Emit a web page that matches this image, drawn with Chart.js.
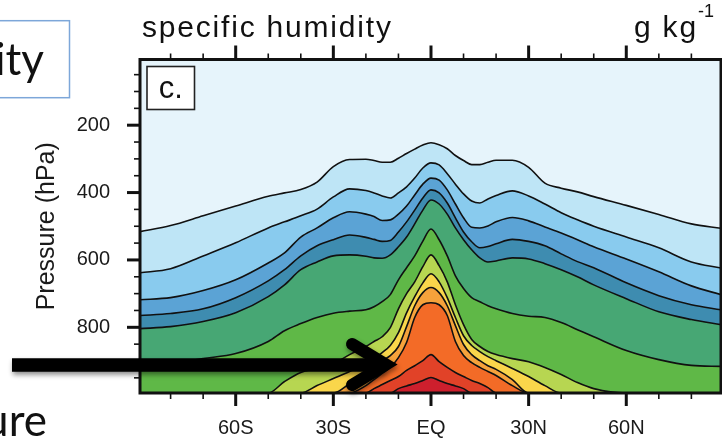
<!DOCTYPE html>
<html>
<head>
<meta charset="utf-8">
<script src="https://cdn.jsdelivr.net/npm/chart.js@4.4.0/dist/chart.umd.min.js"></script>
<style>
html,body{margin:0;padding:0;background:#fff;overflow:hidden}
canvas{display:block}
</style>
</head>
<body>
<canvas id="c" width="722" height="441"></canvas>
<script>
// ---------- data (pressure in hPa of each specific-humidity contour, per latitude) ----------
const SFC = 995; // contour meets the bottom of the plot
const lats = [-89.4,-80,-70,-60,-50,-45,-40,-35,-30,-25,-20,-17.5,-15,-12.5,-10,-7.5,-5,-2.5,0,2.5,5,7.5,10,12.5,15,17.5,20,25,30,35,40,45,50,60,70,80,89.1];

const q1  = [516,498,469,440,411,401,391,369,323,302,301,305,310,310,298,284,271,259,252,258,270,290,305,317,317,310,304,304,325,372,387,398,412,438,465,493,506];
const q2  = [638,626,588,549,505,487,469,449,413,389,394,401,410,416,401,383,357,327,312,318,344,375,404,425,431,419,409,395,410,434,460,481,500,532,564,606,624];
const q3  = [718,712,691,659,609,579,532,505,475,457,464,471,483,481,464,440,407,375,357,363,392,434,475,503,505,499,487,474,484,502,520,540,561,597,635,677,703];
const q4  = [765,759,745,712,662,629,588,558,540,526,533,539,545,542,517,487,452,416,392,401,431,475,517,546,564,560,552,539,545,558,582,605,623,668,706,733,748];
const q5  = [804,798,783,757,709,674,629,606,588,585,589,594,595,585,561,532,493,452,422,434,464,505,540,570,594,606,603,594,597,611,629,650,674,715,754,777,792];
const q6  = [916,907,893,878,842,810,789,771,758,752,748,739,724,703,659,623,588,544,508,540,588,647,685,712,724,736,745,759,767,771,786,807,828,869,896,913,916];
const q7  = [SFC,SFC,SFC,SFC,SFC,961,934,922,908,881,857,842,828,801,745,700,665,620,585,617,665,733,792,836,857,872,881,893,902,919,940,964,982,SFC,SFC,SFC,SFC];
const q8  = [SFC,SFC,SFC,SFC,SFC,SFC,SFC,973,952,931,908,893,875,854,816,757,709,668,641,665,712,771,825,854,872,887,899,922,946,973,SFC,SFC,SFC,SFC,SFC,SFC,SFC];
const q9  = [SFC,SFC,SFC,SFC,SFC,SFC,SFC,SFC,SFC,967,931,914,899,884,857,798,736,697,682,697,736,795,851,881,899,914,925,955,SFC,SFC,SFC,SFC,SFC,SFC,SFC,SFC,SFC];
const q10 = [SFC,SFC,SFC,SFC,SFC,SFC,SFC,SFC,SFC,SFC,973,955,937,919,890,845,771,733,727,733,765,842,884,905,919,931,943,973,SFC,SFC,SFC,SFC,SFC,SFC,SFC,SFC,SFC];
const q11 = [SFC,SFC,SFC,SFC,SFC,SFC,SFC,SFC,SFC,SFC,SFC,982,970,958,946,928,914,899,881,902,919,934,946,958,967,979,SFC,SFC,SFC,SFC,SFC,SFC,SFC,SFC,SFC,SFC,SFC];
const q12 = [SFC,SFC,SFC,SFC,SFC,SFC,SFC,SFC,SFC,SFC,SFC,SFC,SFC,SFC,982,974,967,958,949,958,967,974,982,SFC,SFC,SFC,SFC,SFC,SFC,SFC,SFC,SFC,SFC,SFC,SFC,SFC,SFC];

const latTicks = [-60,-30,0,30,60];
const latTickLabels = ['60S','30S','EQ','30N','60N'];
const latMinorTicks = [-80,-70,-50,-40,-20,-10,10,20,40,50,70,80];
const pTicks = [200,400,600,800];
const pMinorTicks = [50,100,150,250,300,350,450,500,550,650,700,750,850,900,950];

// ---------- styles ----------
const topColor = '#e6f4fb';
const bandColors = ['#bee5f6','#89cbee','#5ba3d5','#3e8cb0','#47a774','#5fb847','#b7d651','#fad64b','#f6a23b','#f36b27','#e14228','#cd1f2d'];
const FONT = '"Liberation Sans", Arial, Helvetica, sans-serif';
const SLIDE_FONT = 'Lato, "Open Sans", sans-serif';

const contours = [q1,q2,q3,q4,q5,q6,q7,q8,q9,q10,q11,q12];

const decor = {
  id: 'decor',
  beforeDatasetsDraw(chart) {
    const {ctx, chartArea: a} = chart;
    ctx.save();
    ctx.fillStyle = topColor;
    ctx.fillRect(a.left, a.top, a.right - a.left, a.bottom - a.top);
    ctx.restore();
  },
  afterDatasetsDraw(chart) {
    const {ctx, chartArea: a, scales: {x, y}} = chart;
    ctx.save();
    ctx.strokeStyle = '#111';
    const seg = (x1, y1, x2, y2, w) => { ctx.lineWidth = w; ctx.beginPath(); ctx.moveTo(x1, y1); ctx.lineTo(x2, y2); ctx.stroke(); };
    latTicks.forEach(v => { const px = x.getPixelForValue(v); seg(px, a.bottom, px, a.bottom + 13, 3); seg(px, a.top, px, a.top - 14, 3); });
    latMinorTicks.forEach(v => { const px = x.getPixelForValue(v); seg(px, a.bottom, px, a.bottom + 6, 1.6); seg(px, a.top, px, a.top - 6, 1.6); });
    pTicks.forEach(v => { const py = y.getPixelForValue(v); seg(a.left, py, a.left - 13, py, 3); });
    pMinorTicks.forEach(v => { const py = y.getPixelForValue(v); seg(a.left, py, a.left - 6, py, 1.6); });
    ctx.lineWidth = 3;
    ctx.strokeRect(a.left, a.top, a.right - a.left, a.bottom - a.top);
    // panel label box
    const bx = a.left + 7, by = a.top + 7, bw = 47.5, bh = 43;
    ctx.fillStyle = '#fff';
    ctx.fillRect(bx, by, bw, bh);
    ctx.lineWidth = 1.6; ctx.strokeStyle = '#222';
    ctx.strokeRect(bx, by, bw, bh);
    ctx.fillStyle = '#111';
    ctx.font = '31px ' + FONT;
    ctx.textAlign = 'center'; ctx.textBaseline = 'alphabetic';
    ctx.fillText('c.', bx + bw / 2, by + 31);
    ctx.restore();
  },
  afterDraw(chart) {
    const {ctx} = chart;
    ctx.save();
    // title + units
    ctx.fillStyle = '#111';
    ctx.textBaseline = 'alphabetic'; ctx.textAlign = 'left';
    ctx.font = '30px ' + FONT;
    ctx.letterSpacing = '1.8px';
    ctx.fillText('specific humidity', 142, 36.5);
    ctx.fillText('g kg', 634, 36.5);
    const w = ctx.measureText('g kg').width;
    ctx.font = '18px ' + FONT;
    ctx.letterSpacing = '0px';
    ctx.fillText('-1', 634 + w, 17);
    // slide overlay: text box at left
    ctx.fillStyle = '#fff';
    ctx.strokeStyle = '#7da7d9'; ctx.lineWidth = 1.5;
    ctx.fillRect(-5, 20.7, 74.5, 77);
    ctx.strokeRect(-5, 20.7, 74.5, 77);
    ctx.fillStyle = '#111';
    ctx.font = '44px ' + SLIDE_FONT;
    ctx.textAlign = 'right';
    ctx.fillText('ity', 44, 75);
    ctx.font = '44px ' + SLIDE_FONT;
    ctx.fillText('ure', 47, 436);
    // arrow
    ctx.shadowColor = 'rgba(0,0,0,0.45)'; ctx.shadowBlur = 5; ctx.shadowOffsetX = 1; ctx.shadowOffsetY = 3;
    ctx.strokeStyle = '#000';
    ctx.lineCap = 'butt'; ctx.lineWidth = 13.5;
    ctx.beginPath(); ctx.moveTo(12, 365); ctx.lineTo(384, 365); ctx.stroke();
    ctx.lineWidth = 12; ctx.lineCap = 'round'; ctx.lineJoin = 'miter'; ctx.miterLimit = 10;
    ctx.beginPath(); ctx.moveTo(352, 344); ctx.lineTo(386, 364.5); ctx.lineTo(352, 385); ctx.stroke();
    ctx.restore();
  }
};

new Chart(document.getElementById('c'), {
  type: 'line',
  data: {
    datasets: contours.map((vals, i) => ({
      label: 'q contour ' + (i + 1),
      data: lats.map((la, j) => ({x: la, y: vals[j]})),
      borderColor: '#111',
      borderWidth: 1.6,
      pointRadius: 0,
      pointHoverRadius: 0,
      backgroundColor: bandColors[i],
      fill: 'start',
      cubicInterpolationMode: 'monotone',
      order: contours.length - i
    }))
  },
  options: {
    responsive: false,
    animation: false,
    devicePixelRatio: 1,
    events: [],
    layout: {padding: {top: 59.5, right: 1, left: 0, bottom: 0}},
    plugins: {legend: {display: false}, tooltip: {enabled: false}, title: {display: false}},
    scales: {
      x: {
        type: 'linear', position: 'bottom', min: -89.4, max: 89.1,
        afterBuildTicks: s => { s.ticks = latTicks.map(v => ({value: v})); },
        afterFit: s => { s.height = 48; },
        ticks: {
          autoSkip: false, maxRotation: 0, padding: 23, color: '#1a1a1a',
          font: {family: FONT, size: 20},
          callback: v => { const k = latTicks.indexOf(v); return k >= 0 ? latTickLabels[k] : ''; }
        },
        grid: {display: false, drawTicks: false},
        border: {display: false}
      },
      y: {
        type: 'linear', position: 'left', reverse: true, min: 5, max: 995,
        afterBuildTicks: s => { s.ticks = pTicks.map(v => ({value: v})); },
        afterFit: s => { s.width = 140; },
        ticks: {autoSkip: false, padding: 30, color: '#1a1a1a', font: {family: FONT, size: 20}, callback: v => String(v)},
        title: {display: true, text: 'Pressure (hPa)', color: '#1a1a1a', font: {family: FONT, size: 25}, padding: {top: 32, bottom: 0}},
        grid: {display: false, drawTicks: false},
        border: {display: false}
      }
    }
  },
  plugins: [decor]
});
</script>
</body>
</html>
